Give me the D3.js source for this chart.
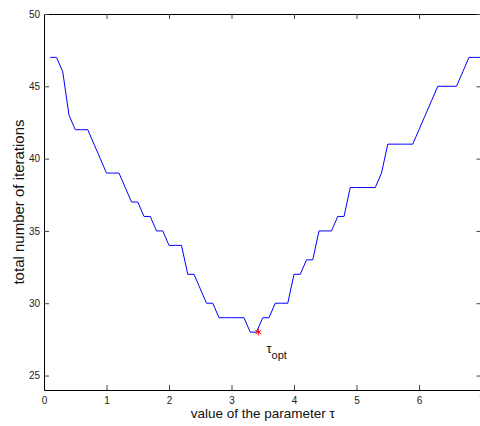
<!DOCTYPE html>
<html>
<head>
<meta charset="utf-8">
<script src="https://cdn.jsdelivr.net/npm/d3@7"></script>
<style>
  body { margin: 0; background: #fff; }
  svg { display: block; font-family: "Liberation Sans", Arial, sans-serif; }
  .tick text { fill: #222; font-size: 10px; }
  .tick line { stroke: #444; }
  .domain { stroke: #000; }
</style>
</head>
<body>
<svg id="chart" width="480" height="426"></svg>
<script>
// tau values (0.1 .. 7.0) and total number of iterations
const tau = d3.range(1, 71).map(i => i / 10)
const iterations = [
  47, 47, 46, 43, 42, 42, 42, 41, 40, 39,
  39, 39, 38, 37, 37, 36, 36, 35, 35, 34,
  34, 34, 32, 32, 31, 30, 30, 29, 29, 29,
  29, 29, 28, 28, 29, 29, 30, 30, 30, 32,
  32, 33, 33, 35, 35, 35, 36, 36, 38, 38,
  38, 38, 38, 39, 41, 41, 41, 41, 41, 42,
  43, 44, 45, 45, 45, 45, 46, 47, 47, 47
]
const tauOpt = 3.43
const iterOpt = 28
const xTicks = [0, 1, 2, 3, 4, 5, 6, 7]
const yTicks = [25, 30, 35, 40, 45, 50]

const margin = { top: 14, left: 44 }
const innerWidth = 437.5
const innerHeight = 376

const svg = d3.select("#chart")

const x = d3.scaleLinear().domain([0, 7]).range([margin.left, margin.left + innerWidth])
const y = d3.scaleLinear().domain([24, 50]).range([margin.top + innerHeight, margin.top])

const noLabels = g => g.selectAll("text").remove()

// bottom axis with labels, ticks pointing inside
svg.append("g")
  .attr("transform", "translate(0," + (margin.top + innerHeight) + ")")
  .call(d3.axisBottom(x).tickValues(xTicks).tickFormat(d3.format("d"))
    .tickSize(-5).tickSizeOuter(0).tickPadding(7))

// top axis, ticks only
svg.append("g")
  .attr("transform", "translate(0," + margin.top + ")")
  .call(d3.axisTop(x).tickValues(xTicks).tickSize(-5).tickSizeOuter(0))
  .call(noLabels)

// left axis
svg.append("g")
  .attr("transform", "translate(" + margin.left + ",0)")
  .call(d3.axisLeft(y).tickValues(yTicks).tickSize(-5).tickSizeOuter(0).tickPadding(4))

// right axis, ticks only
svg.append("g")
  .attr("transform", "translate(" + (margin.left + innerWidth) + ",0)")
  .call(d3.axisRight(y).tickValues(yTicks).tickSize(-5).tickSizeOuter(0))
  .call(noLabels)

const line = d3.line()
  .x((d, i) => x(tau[i]))
  .y(d => y(d))

svg.append("path")
  .datum(iterations)
  .attr("fill", "none")
  .attr("stroke", "#0000ff")
  .attr("stroke-width", 1)
  .attr("d", line)

// optimum marker
svg.append("path")
  .attr("transform", "translate(" + x(tauOpt) + "," + y(iterOpt) + ")")
  .attr("d", d3.symbol().type(d3.symbolAsterisk).size(30))
  .attr("fill", "none")
  .attr("stroke", "#ff0000")
  .attr("stroke-width", 1)

const optLabel = svg.append("text")
  .attr("x", x(tauOpt) + 8)
  .attr("y", y(iterOpt) + 21)
  .style("font-size", "13px")
  .style("fill", "#111")
optLabel.append("tspan").text("τ")
optLabel.append("tspan").attr("dy", 6).style("font-size", "11px").text("opt")

// axis labels
svg.append("text")
  .attr("x", margin.left + innerWidth / 2)
  .attr("y", 418)
  .attr("text-anchor", "middle")
  .style("font-size", "13.5px")
  .style("fill", "#111")
  .text("value of the parameter τ")

svg.append("text")
  .attr("transform", "translate(24," + (margin.top + innerHeight / 2) + ") rotate(-90)")
  .attr("text-anchor", "middle")
  .style("font-size", "15px")
  .style("fill", "#111")
  .text("total number of iterations")
</script>
</body>
</html>
